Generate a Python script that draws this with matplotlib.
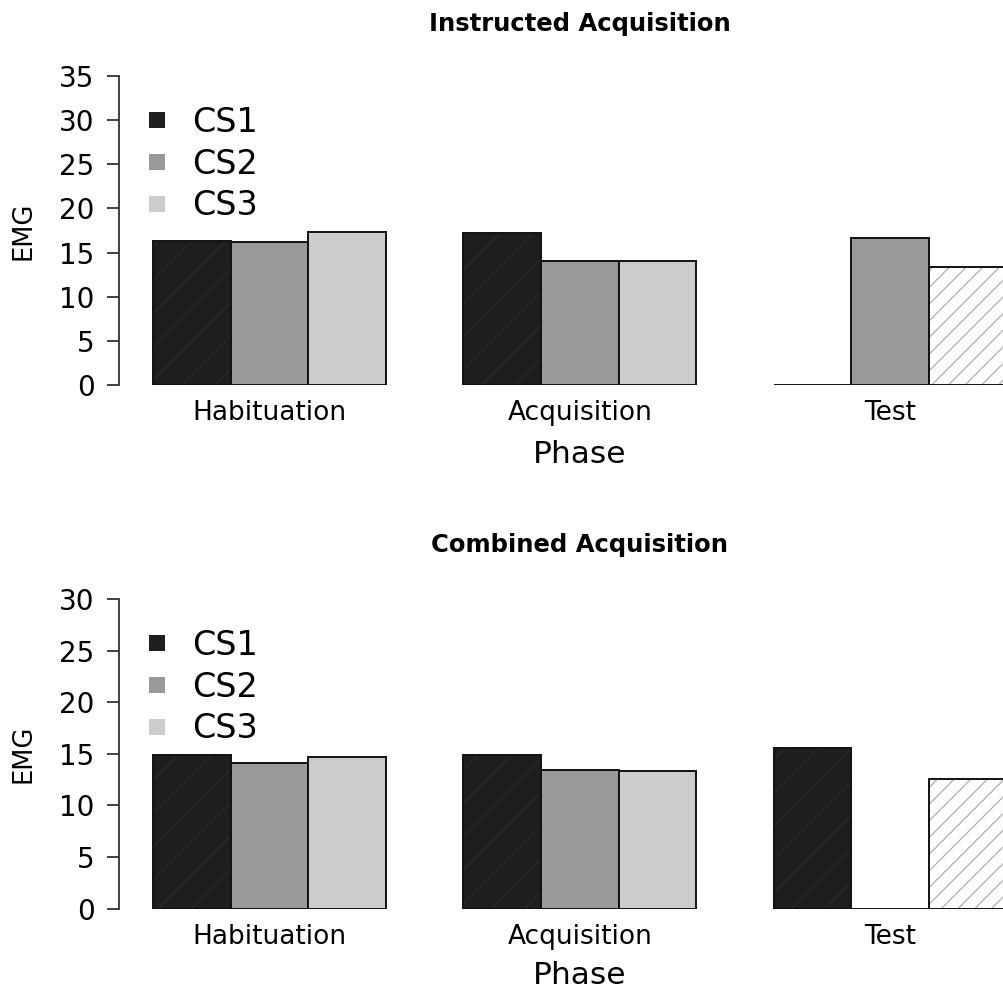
import numpy as np
import matplotlib
matplotlib.use('Agg')
import matplotlib.pyplot as plt
from matplotlib.lines import Line2D

# Data
phases = ['Habituation', 'Acquisition', 'Test']
series = ['CS1', 'CS2', 'CS3']
instructed_cs1 = [16.3, 17.2, 0.0]
instructed_cs2 = [16.2, 14.0, 16.7]
instructed_cs3 = [17.3, 14.0, 13.4]
combined_cs1 = [14.9, 14.9, 15.6]
combined_cs2 = [14.1, 13.4, 0.0]
combined_cs3 = [14.7, 13.3, 12.6]
instructed_ticks = [0, 5, 10, 15, 20, 25, 30, 35]
combined_ticks = [0, 5, 10, 15, 20, 25, 30]

fill_colors = ['#1e1e1e', '#999999', '#cccccc']
texture_colors = ['#2c2c2c', '#9f9f9f', '#cccccc']

plt.rcParams['font.family'] = ['DejaVu Sans']
plt.rcParams['hatch.linewidth'] = 0.8

W, H = 1004, 992
fig = plt.figure(figsize=(W / 100, H / 100), dpi=100)

# plot region in pixels: bars run from x=1 to x=12 in R barplot units
X_LEFT, X_RIGHT = 119, 1040.7


def draw_panel(top_px, base_px, ticks, values, title, title_y, phase_base, legend_top):
    ax = fig.add_axes([X_LEFT / W, 1 - base_px / H,
                       (X_RIGHT - X_LEFT) / W, (base_px - top_px) / H])
    for j, vals in enumerate(values):
        xs = np.arange(len(phases)) * 4 + 1 + j
        fills = ax.bar(xs, vals, width=1, align='edge', color=fill_colors[j],
                       edgecolor=texture_colors[j], linewidth=0)
        if j == 0:
            for b in fills:
                b.set_hatch('/')
        if j == 2:
            # test CS3 drawn as hatched white bar
            fills[2].set_facecolor('white')
            fills[2].set_edgecolor('#a8a8a8')
            fills[2].set_hatch('//')
        ax.bar(xs, vals, width=1, align='edge', fill=False,
               edgecolor='#111111', linewidth=1.4)

    ax.set_xlim(0.56, 12.44)
    ax.set_ylim(ticks[0], ticks[-1])
    for s in ['top', 'right', 'bottom']:
        ax.spines[s].set_visible(False)
    ax.spines['left'].set_bounds(ticks[0], ticks[-1])
    ax.spines['left'].set_color('#333333')
    ax.spines['left'].set_linewidth(1.3)
    ax.set_yticks(ticks)
    ax.tick_params(axis='y', length=8.6, width=1.3, color='#333333',
                   pad=9, labelsize=20)
    ax.set_xticks(np.arange(len(phases)) * 4 + 2.5)
    ax.set_xticklabels(phases)
    ax.tick_params(axis='x', length=0, pad=11, labelsize=19)

    cx = (X_LEFT + X_RIGHT) / 2 / W
    fig.text(cx, 1 - title_y / H, title, ha='center', va='center',
             fontsize=17.5, fontweight='bold')
    fig.text(cx, 1 - phase_base / H, 'Phase', ha='center', va='baseline',
             fontsize=22.5)
    fig.text(24 / W, 1 - (top_px + base_px) / 2 / H, 'EMG', rotation=90,
             ha='center', va='center', fontsize=18.5)

    handles = [Line2D([], [], linestyle='none', marker='s', markersize=11.5,
                      markerfacecolor=c, markeredgewidth=0)
               for c in fill_colors]
    ax.legend(handles, series, loc='upper left', frameon=False, fontsize=24,
              bbox_to_anchor=(140 / W, 1 - legend_top / H),
              bbox_transform=fig.transFigure, borderpad=0, borderaxespad=0,
              handlelength=1.0, handletextpad=0.55, labelspacing=0.26)
    return ax


draw_panel(76, 385, instructed_ticks,
           [instructed_cs1, instructed_cs2, instructed_cs3],
           'Instructed Acquisition', 24, 463, 106)
draw_panel(599.3, 908.5, combined_ticks,
           [combined_cs1, combined_cs2, combined_cs3],
           'Combined Acquisition', 545, 984, 629)

fig.savefig('out.png', dpi=100)
